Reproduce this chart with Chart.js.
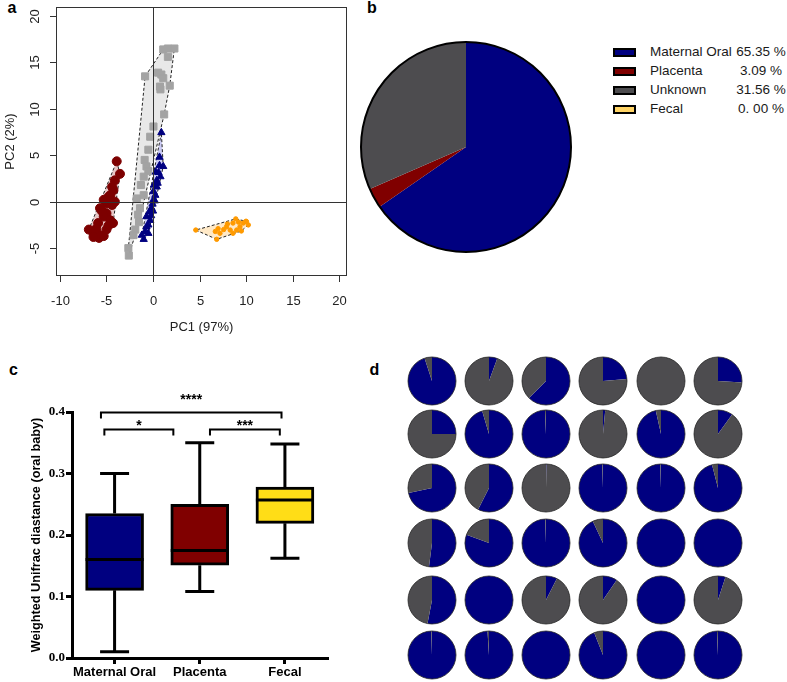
<!DOCTYPE html>
<html>
<head>
<meta charset="utf-8">
<script src="https://cdn.jsdelivr.net/npm/chart.js@4.4.1/dist/chart.umd.min.js"></script>
<style>
  body { margin: 0; background: #fff; width: 787px; height: 682px; position: relative; overflow: hidden;
         font-family: "Liberation Sans", Arial, sans-serif; }
  canvas { position: absolute; }
  .tag { position: absolute; font: bold 16px/16px "Liberation Sans", Arial, sans-serif; color: #000; }
  .lrow { position: absolute; left: 0; height: 18px; line-height: 18px; font-size: 13.5px; color: #1a1a1a; white-space: nowrap; }
  .lrow .sw { position: absolute; left: 1px; top: 5px; width: 23px; height: 9px; box-sizing: border-box; border: 2px solid #000; }
  .lrow .lab { position: absolute; left: 38px; }
  .lrow .pct { position: absolute; left: 109px; width: 80px; text-align: center; }
</style>
</head>
<body>
<div class="tag" style="left:7.5px;top:0px">a</div>
<div class="tag" style="left:367px;top:0px">b</div>
<div class="tag" style="left:9px;top:362px">c</div>
<div class="tag" style="left:369.5px;top:362px">d</div>

<canvas id="pca" width="360" height="335" style="left:0;top:0"></canvas>
<canvas id="srcPie" width="220" height="220" style="left:356px;top:37px"></canvas>
<div id="legendB" style="position:absolute;left:612px;top:43px"></div>
<canvas id="box" width="370" height="342" style="left:0;top:340px"></canvas>
<div id="smallPies"></div>

<script>
// ---- panel a: PCA scores (PC1, PC2) ----
const pcaXTicks = [-10, -5, 0, 5, 10, 15, 20];
const pcaYTicks = [-5, 0, 5, 10, 15, 20];
const unknownPts = [[1.1, 16.4], [1.6, 16.5], [2.3, 16.5], [1.6, 15.6], [-0.85, 13.5], [0.55, 13.9], [0.9, 13.7],
  [1.1, 13.3], [0.75, 12.4], [0.8, 12.1], [1.8, 12.5], [1.2, 9.4], [0.05, 8.1], [-0.3, 7.0], [-0.5, 5.6], [-0.9, 4.5],
  [-0.7, 3.8], [-0.5, 3.3], [-1.0, 2.7], [-1.3, 1.8], [-1.0, 0.7], [-1.75, 0.35], [-1.4, -0.7], [-1.6, -1.4],
  [-1.5, -2.2], [-1.9, -3.0], [-2.1, -3.6], [-2.65, -5.0], [-2.6, -5.8]];
const oralPts = [[0.9, 7.45], [0.7, 4.8], [1.1, 3.8], [0.7, 3.9], [0.3, 3.2], [0.6, 3.15], [0.8, 2.7], [0.4, 2.3],
  [0.1, 1.8], [0.4, 1.6], [0.05, 1.1], [0.25, 0.7], [0.05, 0.2], [-0.05, -0.25], [-0.15, -0.7], [-0.4, -1.1],
  [-0.7, -1.6], [-0.3, -2.0], [-0.7, -2.7], [-0.85, -3.2], [-0.5, -3.4], [-1.2, -3.6], [-1.0, -4.05], [-0.2, -1.5],
  [0.2, 0.1], [0.0, -1.0], [-0.5, -2.5], [0.5, 2.0]];
const placentaPts = [[-3.9, 4.35], [-3.55, 3.0], [-4.1, 2.3], [-4.4, 1.6], [-4.25, 1.25], [-4.6, 0.7], [-5.3, 0.2],
  [-5.0, -0.2], [-4.4, -0.35], [-4.1, 0.0], [-5.7, -0.7], [-5.0, -1.25], [-5.3, -1.6], [-4.6, -2.0], [-5.9, -2.3],
  [-4.3, -2.3], [-6.9, -3.0], [-6.4, -3.4], [-5.7, -3.6], [-5.8, -3.9], [-6.4, -3.8], [-5.3, -3.7], [-5.0, -3.0],
  [-6.1, -2.9], [-4.8, -2.6], [-5.5, -1.0], [-4.8, 0.5]];
const fecalPts = [[4.6, -3.05], [6.85, -4.05], [8.9, -1.85], [10.0, -2.1], [10.25, -2.5], [9.5, -3.15], [8.6, -3.4],
  [7.9, -2.7], [8.3, -3.05], [7.6, -3.0], [9.35, -2.7], [8.6, -2.3], [9.7, -2.3], [7.2, -3.4], [6.7, -3.2],
  [9.0, -3.05], [10.05, -2.15], [8.0, -2.4], [9.2, -2.2], [7.0, -2.9]];

// ---- panel b: SourceTracker proportions ----
const sourceLabels = ['Maternal Oral', 'Placenta', 'Unknown', 'Fecal'];
const sourceShares = [65.35, 3.09, 31.56, 0.00];
const sourceShareText = ['65.35 %', '3.09 %', '31.56 %', '0. 00 %'];

// ---- panel c: weighted unifrac distance to baby oral ----
const boxCats = ['Maternal Oral', 'Placenta', 'Fecal'];
const boxMin = [0.010, 0.108, 0.162];
const boxQ1 = [0.110, 0.151, 0.219];
const boxMed = [0.160, 0.175, 0.257];
const boxQ3 = [0.235, 0.250, 0.278];
const boxMax = [0.300, 0.350, 0.348];
const boxYTicks = [0, 0.1, 0.2, 0.3, 0.4];
// significance brackets: from / to (category units), height, stars
const sigFrom = [-0.16, -0.12, 1.12];
const sigTo = [1.96, 0.69, 1.94];
const sigLevel = [0.4, 0.372, 0.372];
const sigStars = ['****', '*', '***'];

// ---- panel d: % maternal oral per infant sample (rest unknown) ----
const infantOralShare = [
  95, 5.6, 62.5, 23.6, 0, 26,
  25, 95.4, 99.3, 1.5, 96.5, 10,
  71.7, 57.5, 0.4, 99.5, 99.5, 96,
  52, 80.5, 99.5, 93, 100, 100,
  53, 100, 7.5, 9.6, 100, 5,
  99.5, 99, 100, 94, 100, 99.3
];

const NAVY = '#000080', MAROON = '#800000', SLATE = '#4d4c4f';
const sourceColors = [NAVY, MAROON, SLATE, '#ffd466'];

Chart.defaults.font.family = '"Liberation Sans", Arial, sans-serif';
Chart.defaults.animation = false;
Chart.defaults.events = [];
Chart.defaults.plugins.legend.display = false;
Chart.defaults.plugins.tooltip.enabled = false;

// convex hull (monotone chain), closed for drawing
function hull(pts) {
  const p = pts.map(([x, y]) => ({x, y})).sort((a, b) => a.x - b.x || a.y - b.y);
  const cross = (o, a, b) => (a.x - o.x) * (b.y - o.y) - (a.y - o.y) * (b.x - o.x);
  const lower = [], upper = [];
  for (const q of p) {
    while (lower.length >= 2 && cross(lower[lower.length - 2], lower[lower.length - 1], q) <= 0) lower.pop();
    lower.push(q);
  }
  for (const q of p.slice().reverse()) {
    while (upper.length >= 2 && cross(upper[upper.length - 2], upper[upper.length - 1], q) <= 0) upper.pop();
    upper.push(q);
  }
  lower.pop(); upper.pop();
  const h = lower.concat(upper);
  h.push(h[0]);
  return h;
}

function hullSet(pts, fillColor) {
  return {
    data: hull(pts), showLine: true, fill: 'shape', backgroundColor: fillColor,
    borderColor: '#222', borderWidth: 1, borderDash: [3, 2], pointRadius: 0, tension: 0, order: 5
  };
}

function pointSet(pts, style, color, radius) {
  return {
    data: pts.map(([x, y]) => ({x, y})), pointStyle: style, pointRadius: radius,
    backgroundColor: color, borderColor: color, borderWidth: 1, showLine: false, order: 1
  };
}

// R-style frame, ticks and labels for the PCA panel
const pcaFrame = {
  id: 'pcaFrame',
  afterDatasetsDraw(chart) {
    const {ctx, chartArea: a, scales: {x, y}} = chart;
    ctx.save();
    ctx.strokeStyle = '#333';
    ctx.lineWidth = 1;
    const x0 = Math.round(x.getPixelForValue(0)) + 0.5;
    const y0 = Math.round(y.getPixelForValue(0)) + 0.5;
    ctx.beginPath();
    ctx.moveTo(x0, a.top); ctx.lineTo(x0, a.bottom);
    ctx.moveTo(a.left, y0); ctx.lineTo(a.right, y0);
    ctx.stroke();
    ctx.strokeRect(Math.round(a.left) + 0.5, Math.round(a.top) + 0.5, Math.round(a.width) - 1, Math.round(a.height) - 1);

    ctx.fillStyle = '#222';
    ctx.font = '13px "Liberation Sans", Arial, sans-serif';
    ctx.textAlign = 'center';
    ctx.textBaseline = 'middle';
    pcaXTicks.forEach(v => {
      const px = Math.round(x.getPixelForValue(v)) + 0.5;
      ctx.beginPath(); ctx.moveTo(px, a.bottom); ctx.lineTo(px, a.bottom + 6); ctx.stroke();
      ctx.fillText(String(v), px, a.bottom + 25);
    });
    pcaYTicks.forEach(v => {
      const py = Math.round(y.getPixelForValue(v)) + 0.5;
      ctx.beginPath(); ctx.moveTo(a.left - 6, py); ctx.lineTo(a.left, py); ctx.stroke();
      ctx.save();
      ctx.translate(a.left - 21, py);
      ctx.rotate(-Math.PI / 2);
      ctx.fillText(String(v), 0, 0);
      ctx.restore();
    });
    ctx.fillText('PC1 (97%)', (a.left + a.right) / 2, 327);
    ctx.save();
    ctx.translate(10, (a.top + a.bottom) / 2);
    ctx.rotate(-Math.PI / 2);
    ctx.fillText('PC2 (2%)', 0, 0);
    ctx.restore();
    ctx.restore();
  }
};

new Chart(document.getElementById('pca'), {
  type: 'scatter',
  data: {
    datasets: [
      pointSet(placentaPts, 'circle', '#7d0000', 4.5),
      pointSet(oralPts, 'triangle', NAVY, 4.2),
      pointSet(unknownPts, 'rect', '#a3a3a3', 5),
      pointSet(fecalPts, 'circle', '#ff9a00', 2.2),
      hullSet(unknownPts, 'rgba(222,222,222,0.7)'),
      hullSet(oralPts, 'rgba(185,185,240,0.75)'),
      hullSet(placentaPts, 'rgba(215,160,160,0.6)'),
      hullSet(fecalPts, 'rgba(255,225,180,0.75)')
    ]
  },
  options: {
    responsive: false,
    layout: {padding: {left: 56, top: 7, right: 13, bottom: 59}},
    scales: {
      x: {display: false, min: -10.43, max: 20.86},
      y: {display: false, min: -8.0, max: 20.97}
    }
  },
  plugins: [pcaFrame]
});

// black ring round a pie
function ring(color, width) {
  return {
    id: 'ring',
    afterDatasetsDraw(chart) {
      const arc = chart.getDatasetMeta(0).data[0];
      const {ctx} = chart;
      ctx.save();
      ctx.strokeStyle = color;
      ctx.lineWidth = width;
      ctx.beginPath();
      ctx.arc(arc.x, arc.y, arc.outerRadius, 0, Math.PI * 2);
      ctx.stroke();
      ctx.restore();
    }
  };
}

// ---- panel b ----
new Chart(document.getElementById('srcPie'), {
  type: 'pie',
  data: {
    labels: sourceLabels,
    datasets: [{data: sourceShares, backgroundColor: sourceColors, borderWidth: 0}]
  },
  options: {responsive: false, layout: {padding: 5}},
  plugins: [ring('#000', 2)]
});

const legendB = document.getElementById('legendB');
sourceLabels.forEach((lab, i) => {
  const row = document.createElement('div');
  row.className = 'lrow';
  row.style.top = (i * 18.9) + 'px';
  row.innerHTML = '<span class="sw" style="background:' + sourceColors[i] + '"></span>' +
    '<span class="lab">' + lab + '</span><span class="pct">' + sourceShareText[i] + '</span>';
  legendB.appendChild(row);
});

// ---- panel c: box plot from floating bars ----
const boxParts = {
  id: 'boxParts',
  beforeDatasetsDraw(chart) {
    const {ctx, scales: {x, y}} = chart;
    ctx.save();
    ctx.strokeStyle = '#000';
    ctx.lineWidth = 3;
    boxCats.forEach((c, i) => {
      const cx = x.getPixelForValue(i);
      const cap = 14.5;
      ctx.beginPath();
      ctx.moveTo(cx, y.getPixelForValue(boxMax[i])); ctx.lineTo(cx, y.getPixelForValue(boxQ3[i]));
      ctx.moveTo(cx, y.getPixelForValue(boxQ1[i])); ctx.lineTo(cx, y.getPixelForValue(boxMin[i]));
      ctx.moveTo(cx - cap, y.getPixelForValue(boxMax[i])); ctx.lineTo(cx + cap, y.getPixelForValue(boxMax[i]));
      ctx.moveTo(cx - cap, y.getPixelForValue(boxMin[i])); ctx.lineTo(cx + cap, y.getPixelForValue(boxMin[i]));
      ctx.stroke();
    });
    ctx.restore();
  },
  afterDatasetsDraw(chart) {
    const {ctx, scales: {x, y}} = chart;
    const bars = chart.getDatasetMeta(0).data;
    ctx.save();
    ctx.strokeStyle = '#000';
    ctx.lineWidth = 3;
    boxCats.forEach((c, i) => {
      const half = bars[i].width / 2;
      const cx = x.getPixelForValue(i);
      const my = y.getPixelForValue(boxMed[i]);
      ctx.beginPath(); ctx.moveTo(cx - half, my); ctx.lineTo(cx + half, my); ctx.stroke();
    });
    // significance brackets
    ctx.lineWidth = 2;
    ctx.fillStyle = '#000';
    ctx.font = 'bold 14px "Liberation Sans", Arial, sans-serif';
    ctx.textAlign = 'center';
    ctx.textBaseline = 'alphabetic';
    sigStars.forEach((s, i) => {
      const x1 = x.getPixelForValue(sigFrom[i]), x2 = x.getPixelForValue(sigTo[i]);
      const by = Math.round(y.getPixelForValue(sigLevel[i])) + 0.5;
      ctx.beginPath();
      ctx.moveTo(x1, by + 6); ctx.lineTo(x1, by); ctx.lineTo(x2, by); ctx.lineTo(x2, by + 6);
      ctx.stroke();
      ctx.fillText(s, (x1 + x2) / 2, by - (s.length === 4 ? 9 : 0));
    });
    ctx.restore();
  }
};

new Chart(document.getElementById('box'), {
  type: 'bar',
  data: {
    labels: boxCats,
    datasets: [{
      data: boxQ1.map((q, i) => [q, boxQ3[i]]),
      backgroundColor: [NAVY, MAROON, '#ffdd17'],
      borderColor: '#000',
      borderWidth: 3,
      borderSkipped: false,
      barThickness: 58
    }]
  },
  options: {
    responsive: false,
    layout: {padding: {top: 72, right: 42.5, left: 0, bottom: 0}},
    scales: {
      x: {
        afterFit: s => { s.height = 24; },
        grid: {offset: false, drawOnChartArea: false, tickLength: 6, lineWidth: 3, color: '#000'},
        border: {display: true, width: 3, color: '#000'},
        ticks: {color: '#000', padding: 1, autoSkip: false, minRotation: 0, maxRotation: 0,
                font: {size: 13, weight: 'bold'}}
      },
      y: {
        min: 0, max: 0.4,
        afterFit: s => { s.width = 72; },
        afterBuildTicks: s => { s.ticks = boxYTicks.map(v => ({value: v})); },
        grid: {drawOnChartArea: false, tickLength: 6, lineWidth: 3, color: '#000'},
        border: {display: true, width: 3, color: '#000'},
        ticks: {
          color: '#000', padding: 1,
          font: {family: '"Liberation Serif", "Times New Roman", serif', size: 13, weight: 'bold'},
          callback: v => v.toFixed(1)
        },
        title: {
          display: true, text: 'Weighted Unifrac diastance (oral baby)', color: '#000',
          font: {size: 12.7, weight: 'bold'}, padding: {top: 29, bottom: 0}
        }
      }
    }
  },
  plugins: [boxParts]
});

// ---- panel d: grid of per-infant pies ----
const pieColX = [432, 489, 546, 603, 661, 718];
const pieRowY = [381, 434, 488, 543, 600, 655];
const holder = document.getElementById('smallPies');
infantOralShare.forEach((share, k) => {
  const cv = document.createElement('canvas');
  cv.width = 52; cv.height = 52;
  cv.style.left = (pieColX[k % 6] - 26) + 'px';
  cv.style.top = (pieRowY[Math.floor(k / 6)] - 26) + 'px';
  holder.appendChild(cv);
  new Chart(cv, {
    type: 'pie',
    data: {
      labels: ['Maternal Oral', 'Unknown'],
      datasets: [{data: [share, 100 - share], backgroundColor: [NAVY, SLATE], borderWidth: 0}]
    },
    options: {responsive: false, layout: {padding: 2}},
    plugins: [ring('rgba(40,40,40,0.8)', 1)]
  });
});
</script>
</body>
</html>
